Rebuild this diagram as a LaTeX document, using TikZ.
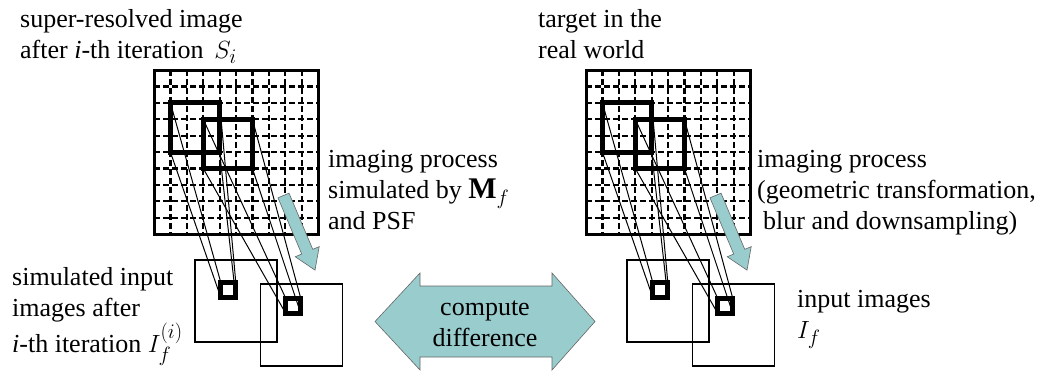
\documentclass[tikz,border=0pt]{standalone}
\usepackage{fontspec}
\setmainfont{Liberation Serif}
\usepackage{amsmath}
\usetikzlibrary{positioning}
\definecolor{arrowteal}{RGB}{153,204,204}
\tikzset{
  txt/.style={inner sep=0pt, align=left, anchor=north west,
              font=\fontsize{26}{31}\selectfont},
  gridline/.style={dash pattern=on 6pt off 3pt, line width=2.2pt},
  bigsq/.style={draw, line width=5pt, inner sep=0pt, outer sep=0pt, minimum size=49.2pt},
  pixsq/.style={draw, line width=5pt, inner sep=0pt, outer sep=0pt, minimum size=15pt},
  framesq/.style={draw, line width=1.3pt, inner sep=0pt, outer sep=0pt, minimum size=82pt},
  ray/.style={line width=1pt},
  fatarrow/.style={fill=arrowteal, draw=black!60, line width=0.6pt},
}
\newcommand{\bigmath}[1]{{\fontsize{30}{31}\selectfont$#1$}}

\begin{document}
\begin{tikzpicture}[x=1pt, y=-1pt]
  \useasboundingbox (0,0) rectangle (1040,370);

  % the two panels: simulated (left) and real (right)
  \foreach \p/\dx in {L/0, R/432} {
    \begin{scope}[xshift=\dx pt]
      \foreach \k in {1,...,9} {
        \draw[gridline] (154+16.4*\k,70) -- (154+16.4*\k,234);
        \draw[gridline] (154,70+16.4*\k) -- (318,70+16.4*\k);
      }
      \draw[line width=3pt] (154,70) rectangle (318,234);

      \node[bigsq]   (\p b1) at (195,127.4) {};
      \node[bigsq]   (\p b2) at (227.8,143.8) {};
      \node[framesq] (\p fa) at (236,301) {};
      \node[framesq] (\p fb) at (301.5,325) {};
      \node[pixsq]   (\p pa) at (228.3,290) {};
      \node[pixsq]   (\p pb) at (293.3,306) {};

      \foreach \c in {north west, north east, south west, south east} {
        \draw[ray] (\p b1.\c) -- (\p pa.\c);
        \draw[ray] (\p b2.\c) -- (\p pb.\c);
      }

      % imaging arrow
      \begin{scope}[shift={(283.5,195.5)}, rotate=-67.1]
        \draw[fatarrow] (0,6) -- (61,6) -- (61,13) -- (81,0) -- (61,-13)
          -- (61,-6) -- (0,-6) -- cycle;
      \end{scope}
    \end{scope}
  }

  % compute difference
  \draw[fatarrow] (375,321.5) -- (420,273) -- (420,286) -- (552,286) -- (552,273)
    -- (595,321.5) -- (552,370) -- (552,357) -- (420,357) -- (420,370) -- cycle;
  \node[txt, anchor=center, align=center] (diff) at (485,324) {compute\\difference};

  \node[txt] (srimg)  at (20,9.2)   {super-resolved image\\after \textit{i}-th iteration \,\bigmath{S_i}};
  \node[txt] (simproc) at (328,150) {imaging process\\simulated by \bigmath{\mathbf{M}_f}\\and PSF};
  \node[txt] (siminp) at (12,267)   {simulated input\\images after\\\textit{i}-th iteration \bigmath{I_f^{(i)}}};
  \node[txt] (target) at (538,9.2)  {target in the\\real world};
  \node[txt] (realproc) at (757,150) {imaging process\\(geometric transformation,\\\hspace{6pt}blur and downsampling)};
  \node[txt] (inp)    at (797,290)  {input images\\\bigmath{I_f}};
\end{tikzpicture}
\end{document}
